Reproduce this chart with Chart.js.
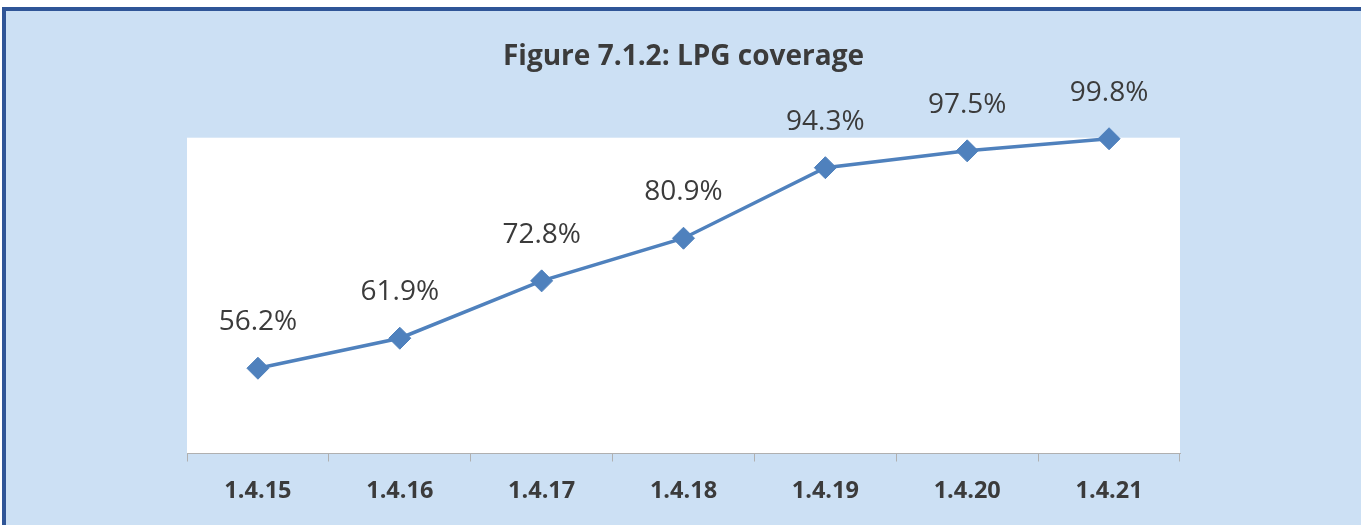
<!DOCTYPE html>
<html>
<head>
<meta charset="utf-8">
<script src="https://cdn.jsdelivr.net/npm/chart.js@4"></script>
<style>
    html, body { margin: 0; padding: 0; background: #fff; overflow: hidden; }
    #frame {
        position: absolute; left: 2px; top: 7px; width: 1400px; height: 560px;
        background: #CCE0F4; border-left: 4px solid #2F5597; border-top: 4px solid #2F5597;
    }
    #lpg-chart { position: absolute; left: 0; top: 0; }
</style>
</head>
<body>
<div id="frame"></div>
<canvas id="lpg-chart" width="1361" height="525"></canvas>
<script>
// data
const dates = ['1.4.15', '1.4.16', '1.4.17', '1.4.18', '1.4.19', '1.4.20', '1.4.21'];
const coverage = [56.2, 61.9, 72.8, 80.9, 94.3, 97.5, 99.8];

const lineColor = '#4F81BD';
const textColor = '#3B3B3B';

// white plot area behind the line
const plotBackground = {
    id: 'plotBackground',
    beforeDraw(chart) {
        const { ctx, chartArea } = chart;
        ctx.save();
        ctx.fillStyle = '#ffffff';
        ctx.fillRect(chartArea.left, chartArea.top, chartArea.right - chartArea.left, chartArea.bottom - chartArea.top);
        ctx.restore();
    }
};

// value labels above each point
const valueLabels = {
    id: 'valueLabels',
    afterDatasetsDraw(chart) {
        const ctx = chart.ctx;
        const meta = chart.getDatasetMeta(0);
        ctx.save();
        ctx.font = '28px "Open Sans"';
        ctx.fillStyle = textColor;
        ctx.textAlign = 'center';
        ctx.textBaseline = 'middle';
        meta.data.forEach((point, i) => {
            ctx.fillText(coverage[i].toFixed(1) + '%', point.x, point.y - 46);
        });
        ctx.restore();
    }
};

new Chart(document.querySelector('#lpg-chart').getContext('2d'), {
    type: 'line',
    data: {
        labels: dates,
        datasets: [{
            label: 'LPG coverage',
            data: coverage,
            borderColor: lineColor,
            backgroundColor: lineColor,
            borderWidth: 3.5,
            tension: 0,
            pointStyle: 'rectRot',
            pointRadius: 11,
            pointHoverRadius: 11,
            pointBorderWidth: 1,
            clip: false
        }]
    },
    options: {
        responsive: false,
        animation: false,
        devicePixelRatio: 1,
        layout: { padding: { left: 187, right: 181, top: 0, bottom: 0 } },
        plugins: {
            legend: { display: false },
            tooltip: { enabled: false },
            title: {
                display: true,
                text: 'Figure 7.1.2: LPG coverage',
                color: textColor,
                font: { family: 'Open Sans', size: 28, weight: 'bold', lineHeight: 1.2 },
                padding: { top: 40.5, bottom: 63.6 }
            }
        },
        scales: {
            x: {
                offset: true,
                grid: {
                    offset: true,
                    drawOnChartArea: false,
                    drawTicks: true,
                    tickLength: 8,
                    color: '#B0B0B0'
                },
                border: { display: true, color: '#B0B0B0', width: 1 },
                ticks: {
                    color: textColor,
                    padding: 16,
                    maxRotation: 0,
                    font: { family: 'Open Sans', size: 23.5, weight: 'bold', lineHeight: 1.2 }
                },
                afterFit(scale) { scale.height = 71.5; }
            },
            y: {
                display: false,
                min: 40,
                max: 100
            }
        }
    },
    plugins: [plotBackground, valueLabels]
});
</script>
</body>
</html>
